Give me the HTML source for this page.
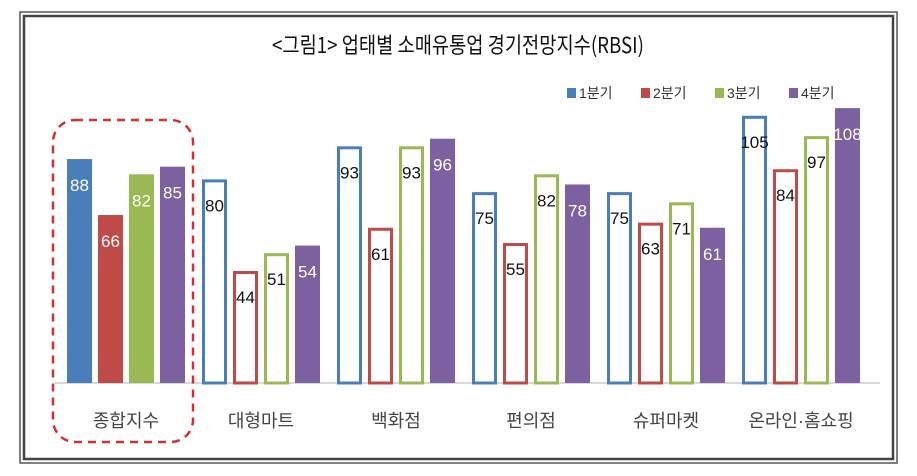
<!DOCTYPE html>
<html><head><meta charset="utf-8"><style>
body{margin:0;background:#fff;width:917px;height:471px;overflow:hidden;font-family:"Liberation Sans","Noto Sans CJK KR",sans-serif}
</style></head><body>
<svg width="917" height="471" id="c">
<rect x="20" y="12" width="877" height="451" fill="none" stroke="#555" stroke-width="1.5"/>
<rect x="24" y="16" width="869" height="443" fill="none" stroke="#444" stroke-width="2.5"/>
<text x="458" y="53" text-anchor="middle" font-size="22" font-family="'Noto Sans CJK KR',sans-serif" fill="#111" transform="translate(458,0) scale(0.85,1) translate(-458,0)">&lt;그림1&gt; 업태별 소매유통업 경기전망지수(RBSI)</text>
<line x1="55" y1="383" x2="880" y2="383" stroke="#ccc" stroke-width="1.5"/>
<rect x="53" y="120" width="140" height="322" rx="22" fill="none" stroke="#d03030" stroke-width="2.5" stroke-dasharray="8,6"/>
<g id="bars"></g><g id="legend"></g>
</svg>
<script>
const categories=["종합지수","대형마트","백화점","편의점","슈퍼마켓","온라인·홈쇼핑"];
const seriesNames=["1분기","2분기","3분기","4분기"];
const q1=[88,80,93,75,75,105];
const q2=[66,44,61,55,63,84];
const q3=[82,51,93,82,71,97];
const q4=[85,54,96,78,61,108];
const series=[q1,q2,q3,q4];
const colors=["#4a7ebb","#be4b48","#98b954","#7d60a0"];
const NS="http://www.w3.org/2000/svg";
const base=383,scale=2.545;
const y=v=>base-v*scale;
const x=(g,s)=>67+g*135+s*31;
const bw=25;
const gb=document.getElementById('bars');
function mk(t,a){const e=document.createElementNS(NS,t);for(const k in a)e.setAttribute(k,a[k]);return e;}
categories.forEach((cat,g)=>{
  series.forEach((arr,s)=>{
    const v=arr[g];const filled=(g===0||s===3);
    const r=mk('rect',{x:x(g,s)+(filled?0:1.5),y:y(v)+(filled?0:1.5),width:bw-(filled?0:3),height:v*scale-(filled?0:1.5),fill:filled?colors[s]:'#fff',stroke:colors[s],'stroke-width':filled?0:3});
    
    
    gb.appendChild(r);
    const t=mk('text',{x:x(g,s)+bw/2,y:y(v)+32,'text-anchor':'middle','font-size':17,fill:filled?'#fff':'#111'});
    t.textContent=v;
    
    
    gb.appendChild(t);
  });
  const l=mk('text',{x:x(g,0)+59,y:427,'text-anchor':'middle','font-size':18,fill:'#444'});
  l.textContent=cat;
  
  
  gb.appendChild(l);
});
const lg=document.getElementById('legend');
seriesNames.forEach((n,i)=>{
  const lx=567+i*74;
  const r=mk('rect',{x:lx,y:88,width:9,height:10,fill:colors[i]});
  
  
  lg.appendChild(r);
  const t=mk('text',{x:lx+12,y:98,'font-size':14,fill:'#333'});
  t.textContent=n;
  
  
  lg.appendChild(t);
});
</script>
</body></html>
